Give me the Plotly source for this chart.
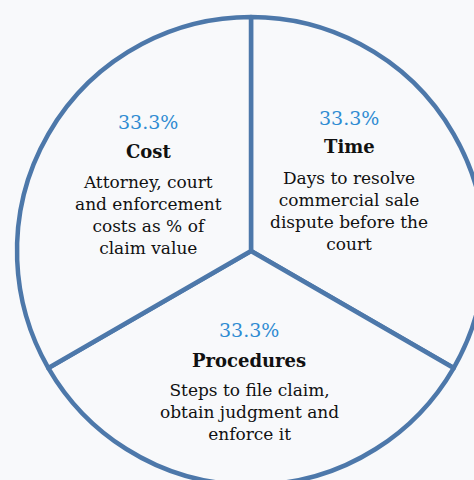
import plotly.graph_objects as go

# Enforcement indicators, each weighted equally
labels = ["Time", "Procedures", "Cost"]
values = [1, 1, 1]
descriptions = [
    "Days to resolve<br>commercial sale<br>dispute before the<br>court",
    "Steps to file claim,<br>obtain judgment and<br>enforce it",
    "Attorney, court<br>and enforcement<br>costs as % of<br>claim value",
]

W = H = 502
BG = "#f8f9fb"
EDGE = "#4d78aa"
BLUE = "#2f8bd2"
FONT = "DejaVu Serif"

fig = go.Figure(
    go.Pie(
        labels=labels,
        values=values,
        sort=False,
        direction="clockwise",
        rotation=0,
        textinfo="none",
        hoverinfo="skip",
        marker=dict(colors=[BG] * 3, line=dict(color=EDGE, width=4.5)),
        domain=dict(x=[17 / W, 485 / W], y=[17 / H, 485 / H]),
    )
)

# label block anchor points (pixel centres) per slice: percent, title, description top
anchors = {
    "Time": (349, 118, 147, 166),
    "Procedures": (249, 330, 360, 378),
    "Cost": (148, 122, 152, 170),
}

total = sum(values)
annotations = []
for lab, val, desc in zip(labels, values, descriptions):
    x, yp, yt, yd = anchors[lab]
    xp = x / W
    annotations.append(dict(x=xp, y=1 - yp / H, text=f"{val / total * 100:.1f}%",
                            font=dict(family=FONT, size=19, color=BLUE)))
    annotations.append(dict(x=xp, y=1 - yt / H, text=f"<b>{lab}</b>",
                            font=dict(family=FONT, size=18, color="#111111")))
    annotations.append(dict(x=xp, y=1 - yd / H, text=desc, yanchor="top",
                            font=dict(family=FONT, size=17, color="#111111")))
for a in annotations:
    a.update(xref="paper", yref="paper", showarrow=False, xanchor="center",
             align="center")
    a.setdefault("yanchor", "middle")

fig.update_layout(
    width=W,
    height=H,
    margin=dict(l=0, r=0, t=0, b=0),
    paper_bgcolor=BG,
    plot_bgcolor=BG,
    showlegend=False,
    annotations=annotations,
)

fig.write_html(
    "out.html",
    post_script="document.body.style.margin='0';"
                "document.body.style.overflow='hidden';"
                "document.documentElement.style.overflow='hidden';",
)
